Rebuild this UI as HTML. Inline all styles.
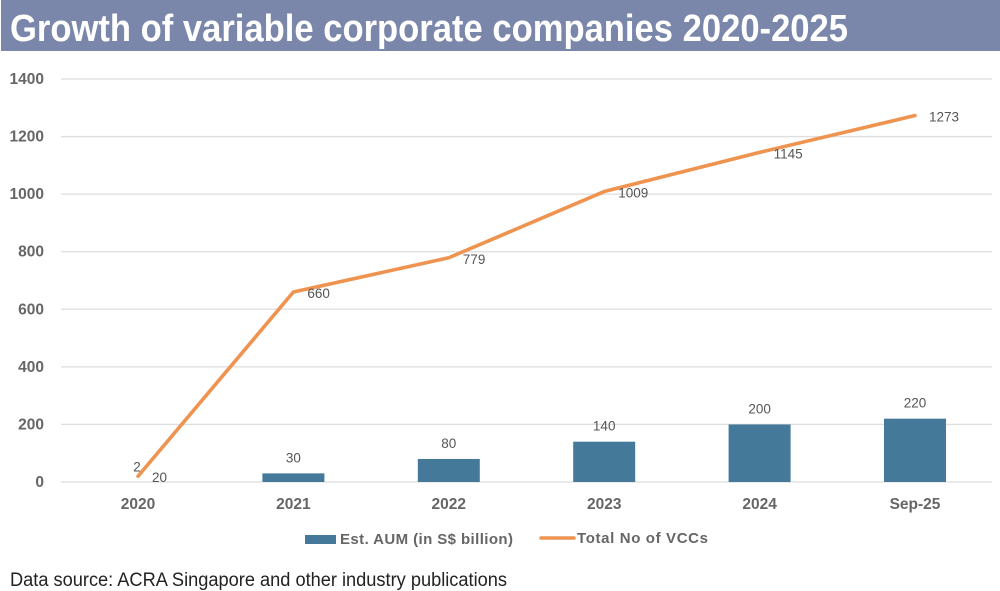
<!DOCTYPE html>
<html lang="en">
<head>
<meta charset="utf-8">
<title>Growth of variable corporate companies 2020-2025</title>
<style>
html,body{margin:0;padding:0;background:#fff;}
body{width:1000px;height:591px;overflow:hidden;}
svg{display:block;font-family:"Liberation Sans",sans-serif;}
</style>
</head>
<body>
<svg id="chart" width="1000" height="591" viewBox="0 0 1000 591" xmlns="http://www.w3.org/2000/svg">
  <rect x="1" y="0" width="999" height="51" fill="#7a87aa"/>
  <text x="10" y="41" font-size="38" font-weight="700" fill="#fff" textLength="838" lengthAdjust="spacingAndGlyphs">Growth of variable corporate companies 2020-2025</text>
  <g id="grid"></g>
  <g id="bars"></g>
  <g id="line"></g>
  <g id="labels"></g>
  <g>
    <rect x="305" y="535" width="31" height="9" fill="#44799a"/>
    <text x="340" y="544" font-size="15" font-weight="700" fill="#666" textLength="173" lengthAdjust="spacing">Est. AUM (in S$ billion)</text>
    <line x1="541" x2="574" y1="538" y2="538" stroke="#ee9350" stroke-width="3.5" stroke-linecap="round"/>
    <text x="577" y="543" font-size="15" font-weight="700" fill="#666" textLength="131" lengthAdjust="spacing">Total No of VCCs</text>
  </g>
  <text x="10" y="586" font-size="19" fill="#222" textLength="497" lengthAdjust="spacingAndGlyphs">Data source: ACRA Singapore and other industry publications</text>
</svg>
<script>
const categories = ['2020', '2021', '2022', '2023', '2024', 'Sep-25'];
const aumValues = [2, 30, 80, 140, 200, 220];
const vccValues = [20, 660, 779, 1009, 1145, 1273];
const yTicks = [0, 200, 400, 600, 800, 1000, 1200, 1400];

const NS = 'http://www.w3.org/2000/svg';
const xFirst = 138, xStep = 155.4;
const yZero = 482, yScale = (482 - 79) / 1400;
const xPos = function (i) { return xFirst + i * xStep; };
const yPos = function (v) { return yZero - v * yScale; };

function make(tag, parentId, attrs, text) {
  const el = document.createElementNS(NS, tag);
  for (const k in attrs) el.setAttribute(k, attrs[k]);
  if (text !== undefined) el.textContent = text;
  document.getElementById(parentId).appendChild(el);
  return el;
}

yTicks.forEach(function (t) {
  const gl = make('line', 'grid', { x1: 61, x2: 992, y1: yPos(t), y2: yPos(t), stroke: '#dedede', 'stroke-width': 1.3 });
  
  
  const lb = make('text', 'grid', { x: 44, y: yPos(t) + 5, 'text-anchor': 'end', 'font-size': 15.5, 'font-weight': 700, fill: '#666' }, String(t));
  
  
});

categories.forEach(function (c, i) {
  const lb = make('text', 'grid', { x: xPos(i), y: 509, 'text-anchor': 'middle', 'font-size': 15.5, 'font-weight': 700, fill: '#666' }, c);
  
  
});

aumValues.forEach(function (v, i) {
  if (i > 0) {
    const bar = make('rect', 'bars', { x: xPos(i) - 31, y: yPos(v), width: 62, height: yZero - yPos(v), fill: '#44799a' });
    
    
  }
  const lab = make('text', 'labels', { x: i === 0 ? xPos(i) - 1 : xPos(i), y: i === 0 ? yPos(v) - 10 : yPos(v) - 11, 'text-anchor': 'middle', 'font-size': 13.5, fill: '#555' }, String(v));
  
  
});

const linePath = make('polyline', 'line', {
  points: vccValues.map(function (v, i) { return xPos(i) + ',' + yPos(v); }).join(' '),
  fill: 'none', stroke: '#ee9350', 'stroke-width': 3.6, 'stroke-linecap': 'round', 'stroke-linejoin': 'round'
});



vccValues.forEach(function (v, i) {
  const lab = make('text', 'labels', { x: xPos(i) + 14, y: yPos(v) + 6, 'font-size': 13.5, fill: '#555' }, String(v));
  
  
});
</script>
</body>
</html>
